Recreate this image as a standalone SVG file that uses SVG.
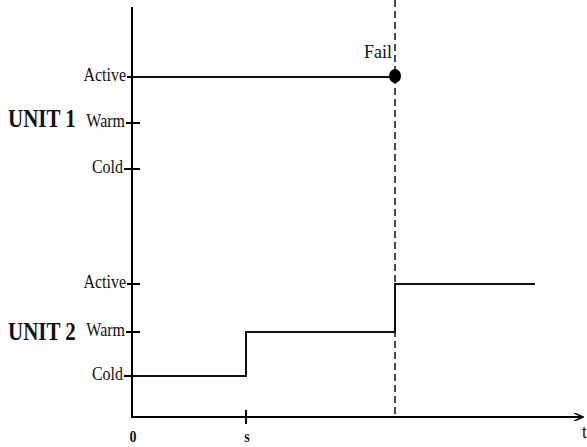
<svg xmlns="http://www.w3.org/2000/svg" width="587" height="447" viewBox="0 0 587 447">
<style>
.ax{stroke:#000;stroke-width:2;fill:none}
.sig{stroke:#111;stroke-width:2;fill:none}
.lbl{font-family:"Liberation Serif","Times New Roman",serif;font-size:16px;fill:#111}
.unit{font-family:"Liberation Serif","Times New Roman",serif;font-size:21px;font-weight:bold;fill:#111}
.tick{font-family:"Liberation Serif","Times New Roman",serif;font-size:14px;font-weight:bold;fill:#111}
</style>
<defs>
<marker id="arr" markerWidth="10" markerHeight="8" refX="9" refY="4" orient="auto" markerUnits="userSpaceOnUse">
<path d="M0,0 L9,4 L0,8" fill="none" stroke="#000" stroke-width="1.5"/>
</marker>
</defs>
<g id="axes">
<line class="ax" x1="132" y1="7" x2="132" y2="418"/>
<line class="ax" x1="131" y1="417" x2="583" y2="417" marker-end="url(#arr)"/>
<line class="ax" x1="246" y1="410" x2="246" y2="424"/>
<text x="582" y="438" font-family="Liberation Sans,Arial,sans-serif" font-size="16" fill="#111">t</text>
<text class="tick" text-anchor="middle" transform="translate(133,442) scale(1,1.2)">0</text>
<text class="tick" text-anchor="middle" transform="translate(247,442) scale(1,1.2)">s</text>
</g>
<g id="unit1">
<text class="unit" transform="translate(8,127) scale(1,1.2)">UNIT 1</text>
<line class="ax" x1="127" y1="77" x2="140" y2="77"/>
<line class="ax" x1="126" y1="123" x2="140" y2="123"/>
<line class="ax" x1="124" y1="169" x2="140" y2="169"/>
<text class="lbl" text-anchor="end" transform="translate(126,81) scale(1,1.2)">Active</text>
<text class="lbl" text-anchor="end" transform="translate(125,127) scale(1,1.2)">Warm</text>
<text class="lbl" text-anchor="end" transform="translate(123,173) scale(1,1.2)">Cold</text>
</g>
<g id="unit2">
<text class="unit" transform="translate(8,340) scale(1,1.2)">UNIT 2</text>
<line class="ax" x1="127" y1="284" x2="140" y2="284"/>
<line class="ax" x1="126" y1="332" x2="140" y2="332"/>
<line class="ax" x1="124" y1="376" x2="140" y2="376"/>
<text class="lbl" text-anchor="end" transform="translate(126,288) scale(1,1.2)">Active</text>
<text class="lbl" text-anchor="end" transform="translate(125,336) scale(1,1.2)">Warm</text>
<text class="lbl" text-anchor="end" transform="translate(123,380) scale(1,1.2)">Cold</text>
</g>
<g id="signals">
<line class="sig" x1="132" y1="77" x2="395" y2="77"/>
<polyline class="sig" points="132,376 246,376 246,332 395,332 395,284 535,284"/>
<line x1="395" y1="0" x2="395" y2="417" stroke="#111" stroke-width="1.5" stroke-dasharray="7,4"/>
</g>
<g id="fail">
<ellipse cx="395" cy="76" rx="6" ry="7" fill="#000"/>
<text class="lbl" text-anchor="end" font-size="18" style="font-size:18px" transform="translate(392,58) scale(1,1.1)">Fail</text>
</g>
</svg>
